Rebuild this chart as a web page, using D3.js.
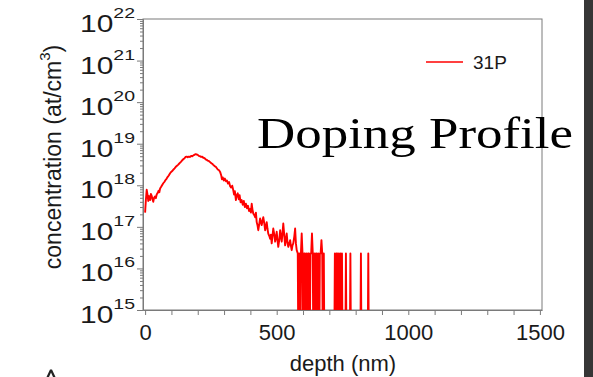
<!DOCTYPE html>
<html>
<head>
<meta charset="utf-8">
<script src="https://cdn.jsdelivr.net/npm/d3@7"></script>
<style>
  body { margin: 0; background: #fff; }
  svg { display: block; }
</style>
</head>
<body>
<svg id="chart" width="593" height="377"></svg>
<script>
// SIMS profile of 31P (depth in nm, concentration in at/cm3, 0 = below limit)
var depth = [
  0, 3, 6, 9, 12, 15, 19, 22, 25, 28, 31, 34, 38, 41, 44, 48, 51, 54, 57, 61,
  65, 69, 73, 77, 82, 86, 90, 95, 99, 103, 108, 112, 116, 120, 125, 129, 133, 137, 141, 146,
  150, 154, 158, 162, 166, 171, 175, 179, 183, 187, 192, 196, 200, 204, 209, 213, 217, 221, 226, 230,
  234, 238, 243, 247, 251, 255, 259, 264, 268, 272, 276, 281, 285, 289, 292, 295, 299, 303, 307, 311,
  315, 319, 323, 327, 331, 335, 338, 341, 345, 348, 352, 356, 359, 363, 367, 371, 375, 379, 383, 387,
  391, 395, 399, 402, 405, 408, 411, 415, 418, 421, 424, 427, 430, 434, 437, 440, 443, 446, 449, 453,
  456, 459, 462, 465, 468, 472, 475, 478, 481, 484, 487, 491, 494, 497, 500, 503, 506, 510, 513, 516,
  519, 522, 525, 529, 532, 535, 538, 541, 544, 548, 551, 554, 557, 560, 563, 567, 570, 573, 576, 580,
  583, 586, 589, 592, 595, 598, 601, 604, 607, 610, 613, 616, 619, 622, 625, 628, 631, 634, 637, 640,
  643, 646, 649, 652, 655, 658, 661, 664, 667, 670, 673, 676, 679, 682, 718, 721, 724, 727, 730, 733,
  736, 739, 742, 745, 748, 751, 760, 763, 766, 777, 780, 783, 817, 820, 823, 845, 848, 851, 870
];
var conc = [
  2.2e17, 4.5e17, 7.8e17, 6.0e17, 4.2e17, 5.5e17, 4.4e17, 6.2e17, 5.6e17, 4.6e17, 4.0e17, 5.0e17, 5.4e17, 4.9e17, 6.0e17, 6.6e17, 7.4e17, 6.8e17, 8.4e17, 9.2e17,
  1.02e18, 1.12e18, 1.2e18, 1.32e18, 1.45e18, 1.6e18, 1.72e18, 1.95e18, 2.1e18, 2.2e18, 2.4e18, 2.55e18, 2.75e18, 2.9e18, 3.1e18, 3.3e18, 3.5e18, 3.7e18, 4.0e18, 4.3e18,
  4.5e18, 4.8e18, 4.9e18, 4.7e18, 4.9e18, 4.8e18, 5.1e18, 5.0e18, 5.2e18, 5.4e18, 5.6e18, 5.5e18, 5.4e18, 5.1e18, 5.0e18, 4.8e18, 4.9e18, 4.6e18, 4.5e18, 4.2e18,
  4.1e18, 3.9e18, 3.8e18, 3.6e18, 3.4e18, 3.3e18, 3.1e18, 2.9e18, 2.8e18, 2.6e18, 2.4e18, 2.3e18, 2.1e18, 1.75e18, 1.4e18, 1.55e18, 1.3e18, 1.45e18, 1.25e18, 1.3e18,
  1.1e18, 1.2e18, 9.5e17, 8.8e17, 9.8e17, 7.6e17, 6.0e17, 7.2e17, 4.4e17, 5.6e17, 6.4e17, 4.6e17, 5.8e17, 3.9e17, 4.4e17, 3.4e17, 4.2e17, 3.0e17, 3.6e17, 2.8e17,
  3.2e17, 2.4e17, 2.7e17, 2.2e17, 3.6e17, 2.6e17, 2.1e17, 1.9e17, 1.7e17, 2.2e17, 1.3e17, 1.1e17, 8.3e16, 1.2e17, 1.6e17, 1.3e17, 1.1e17, 1.4e17, 1.7e17, 1.2e17,
  8.3e16, 1.0e17, 1.3e17, 9.0e16, 6.9e16, 6.0e16, 5.2e16, 6.5e16, 4.0e16, 6.0e16, 9.1e16, 6.5e16, 4.4e16, 5.5e16, 7.6e16, 4.8e16, 3.3e16, 5.0e16, 8.3e16, 6.0e16,
  4.4e16, 7.0e16, 1.2e17, 6.0e16, 3.6e16, 5.0e16, 6.9e16, 4.2e16, 3.3e16, 4.0e16, 4.8e16, 3.5e16, 2.75e16, 3.6e16, 4.0e16, 6.0e16, 9.1e16, 4.0e16, 2.75e16, 2.3e16,
  0, 2.3e16, 0, 2.3e16, 6.9e16, 2.3e16, 0, 2.3e16, 2.3e16, 0, 2.3e16, 0, 2.3e16, 2.3e16, 0, 2.3e16, 2.3e16, 6.9e16, 2.3e16, 0,
  2.3e16, 0, 2.3e16, 2.3e16, 0, 2.3e16, 0, 2.3e16, 2.3e16, 4.8e16, 2.3e16, 0, 2.3e16, 0, 0, 2.3e16, 0, 2.3e16, 2.3e16, 0,
  2.3e16, 0, 2.3e16, 0, 2.3e16, 0, 0, 2.3e16, 0, 0, 2.3e16, 0, 0, 2.3e16, 0, 0, 2.3e16, 0, 0
];
var xTicks = [0, 100, 200, 300, 400, 500, 600, 700, 800, 900, 1000, 1100, 1200, 1300, 1400, 1500];
var xLabels = [0, 500, 1000, 1500];
var decades = [15, 16, 17, 18, 19, 20, 21, 22];
var seriesName = '31P';

(function() {
  var svg = d3.select('#chart');
  var plotLeft = 143, plotRight = 542, plotTop = 19, plotBottom = 310;
  var axisGray = '#7a7a7a', textColor = '#1a1a1a', red = '#f00';
  var sans = '"Liberation Sans", Arial, sans-serif';

  var x = d3.scaleLinear().domain([-8, 1508]).range([plotLeft, plotRight]);
  var y = d3.scaleLog().domain([1e15, 1e22]).range([plotBottom, plotTop]);

  svg.append('rect').attr('width', 593).attr('height', 377).attr('fill', '#fff');
  // dark strip at the right edge of the slide
  svg.append('rect').attr('x', 584).attr('y', 0).attr('width', 9).attr('height', 377).attr('fill', '#363636');

  svg.append('defs').append('clipPath').attr('id', 'plotClip')
    .append('rect').attr('x', plotLeft).attr('y', plotTop)
    .attr('width', plotRight - plotLeft).attr('height', plotBottom - plotTop);

  // frame
  svg.append('rect')
    .attr('x', plotLeft).attr('y', plotTop).attr('width', plotRight - plotLeft).attr('height', plotBottom - plotTop)
    .attr('fill', 'none').attr('stroke', axisGray).attr('stroke-width', 1);

  // x axis
  var xAxis = svg.append('g').attr('transform', 'translate(0,' + plotBottom + ')')
    .call(d3.axisBottom(x).tickValues(xTicks).tickSize(5).tickSizeOuter(0)
      .tickFormat(function(d) { return xLabels.indexOf(d) >= 0 ? d : ''; }));
  xAxis.select('.domain').attr('stroke', axisGray);
  xAxis.selectAll('.tick line').attr('stroke', axisGray);
  xAxis.selectAll('.tick text')
    .attr('y', 14).attr('dy', '0.71em')
    .attr('fill', textColor).style('font', '22px ' + sans);

  // y axis, major and minor ticks
  var minors = [];
  decades.slice(0, -1).forEach(function(k) {
    for (var m = 2; m <= 9; m++) minors.push(m * Math.pow(10, k));
  });
  var yMinor = svg.append('g').attr('transform', 'translate(' + plotLeft + ',0)')
    .call(d3.axisLeft(y).tickValues(minors).tickSize(3).tickSizeOuter(0).tickFormat(''));
  var yMajor = svg.append('g').attr('transform', 'translate(' + plotLeft + ',0)')
    .call(d3.axisLeft(y).tickValues(decades.map(function(k) { return Math.pow(10, k); }))
      .tickSize(6).tickSizeOuter(0).tickFormat(''));
  [yMinor, yMajor].forEach(function(g) {
    g.select('.domain').attr('stroke', axisGray);
    g.selectAll('.tick line').attr('stroke', axisGray);
  });

  // y tick labels 10^k (the source picture is a little stretched sideways)
  var yLab = svg.append('g').style('font-family', sans).attr('fill', textColor);
  decades.forEach(function(k) {
    var ty = y(Math.pow(10, k));
    var t = yLab.append('text').attr('text-anchor', 'end')
      .attr('transform', 'translate(135,' + (ty + 13) + ') scale(1.3,1)');
    t.append('tspan').style('font-size', '23px').text('10');
    t.append('tspan').style('font-size', '15px').attr('dy', -14).text(k);
  });

  // axis titles
  svg.append('text')
    .attr('x', 343).attr('y', 371).attr('text-anchor', 'middle')
    .attr('fill', textColor).style('font', '22px ' + sans)
    .text('depth (nm)');

  var yTitle = svg.append('text')
    .attr('transform', 'translate(61,157) rotate(-90)').attr('text-anchor', 'middle')
    .attr('fill', textColor).style('font', '23px ' + sans);
  yTitle.append('tspan').text('concentration (at/cm');
  yTitle.append('tspan').style('font-size', '15px').attr('dy', -11).text('3');
  yTitle.append('tspan').attr('dy', 11).text(')');

  // profile line
  var pts = depth.map(function(d, i) { return { d: d, c: conc[i] }; });
  var line = d3.line()
    .x(function(p) { return x(p.d); })
    .y(function(p) { return p.c > 0 ? y(p.c) : y(1e13); });
  svg.append('path').datum(pts)
    .attr('clip-path', 'url(#plotClip)')
    .attr('d', line)
    .attr('fill', 'none').attr('stroke', red).attr('stroke-width', 1.9).attr('stroke-linejoin', 'round');

  // legend
  svg.append('line').attr('x1', 426).attr('x2', 463).attr('y1', 62).attr('y2', 62)
    .attr('stroke', red).attr('stroke-width', 1.6);
  svg.append('text').attr('x', 473).attr('y', 69)
    .attr('fill', textColor).style('font', '19px ' + sans)
    .text(seriesName);

  // slide title laid over the chart
  svg.append('text').attr('x', 257).attr('y', 148)
    .attr('textLength', 316).attr('lengthAdjust', 'spacingAndGlyphs')
    .attr('fill', '#000').style('font', '45px "Liberation Serif", "Times New Roman", serif')
    .text('Doping Profile');

  // apex of a cut-off glyph from the slide below the picture
  svg.append('path').attr('d', 'M46.5,377 L50,369.5 L52,369.5 L55.5,377 L53,377 L51,372.5 L49,377 Z')
    .attr('fill', '#222');
})();
</script>
</body>
</html>
